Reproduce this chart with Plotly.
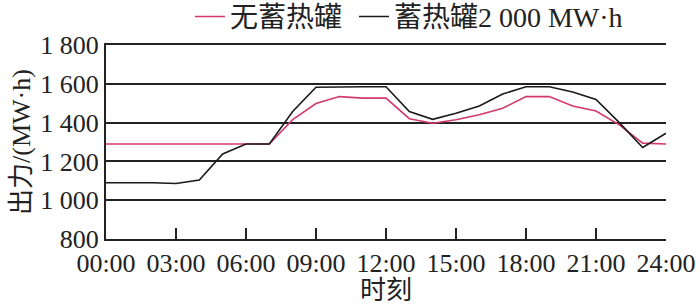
import plotly.graph_objects as go

hours = list(range(25))
no_tank = [1290, 1290, 1290, 1290, 1290, 1290, 1290, 1290, 1415, 1498, 1534, 1526, 1526,
           1420, 1397, 1415, 1440, 1474, 1534, 1534, 1486, 1460, 1388, 1294, 1290]
tank_2000 = [1090, 1090, 1090, 1086, 1104, 1238, 1290, 1290, 1457, 1582, 1585, 1585, 1585,
             1457, 1417, 1448, 1486, 1547, 1585, 1585, 1558, 1519, 1400, 1272, 1345]

series_names = ["无蓄热罐", "蓄热罐2 000 MW·h"]
x_tickvals = [0, 3, 6, 9, 12, 15, 18, 21, 24]
x_ticktext = ["00:00", "03:00", "06:00", "09:00", "12:00", "15:00", "18:00", "21:00", "24:00"]
y_tickvals = [800, 1000, 1200, 1400, 1600, 1800]
y_ticktext = ["800", "1 000", "1 200", "1 400", "1 600", "1 800"]

FONT = "Liberation Serif, Noto Sans CJK SC, serif"

fig = go.Figure()
fig.add_trace(go.Scatter(x=hours, y=no_tank, mode="lines", name=series_names[0] + "\u00a0",
                         line=dict(color="#d3396a", width=1.6)))
fig.add_trace(go.Scatter(x=hours, y=tank_2000, mode="lines", name=series_names[1],
                         line=dict(color="#1a1a1a", width=1.6)))

fig.update_layout(
    width=700, height=305,
    margin=dict(l=106, r=34, t=45, b=66, autoexpand=False),
    paper_bgcolor="white", plot_bgcolor="white",
    font=dict(family=FONT, size=26, color="#222"),
    showlegend=True,
    legend=dict(orientation="h", x=0.541, xanchor="center", y=1.145, yanchor="middle",
                font=dict(size=28), itemwidth=30, tracegroupgap=0,
                bgcolor="rgba(0,0,0,0)"),
    xaxis=dict(range=[0, 24], tickvals=x_tickvals, ticktext=x_ticktext,
               ticks="inside", ticklen=11, tickwidth=1.5, tickcolor="#222",
               showline=True, linecolor="#222", linewidth=2, mirror=True,
               showgrid=False, zeroline=False, automargin=False,
               title=dict(text="时刻", standoff=2, font=dict(size=26))),
    yaxis=dict(range=[800, 1800], tickvals=y_tickvals, ticktext=y_ticktext,
               ticks="", showline=True, linecolor="#222", linewidth=2,
               showgrid=True, gridcolor="#222", gridwidth=2, zeroline=False, automargin=False,
               title=dict(text="出力/(MW·h)", standoff=2, font=dict(size=26))),
)

fig.write_html("out.html")
